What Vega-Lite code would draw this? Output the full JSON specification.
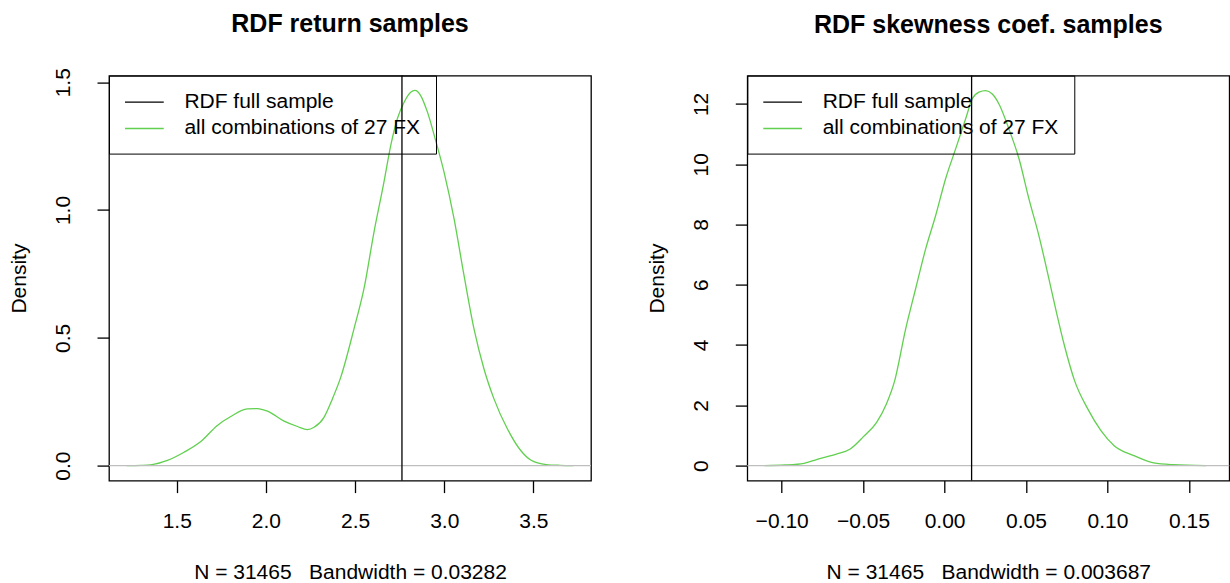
{
  "$schema": "https://vega.github.io/schema/vega-lite/v6.json",
  "background": "white",
  "padding": {"left": 7, "top": 10.6, "right": 0, "bottom": 0},
  "datasets": {
    "ret": [
      {"x": 1.220, "y": 0}, {"x": 1.30, "y": 0.001}, {"x": 1.354, "y": 0.003}, {"x": 1.448, "y": 0.020},
      {"x": 1.541, "y": 0.052}, {"x": 1.635, "y": 0.094}, {"x": 1.728, "y": 0.157}, {"x": 1.803, "y": 0.192},
      {"x": 1.896, "y": 0.222}, {"x": 1.952, "y": 0.223}, {"x": 2.009, "y": 0.213}, {"x": 2.102, "y": 0.174},
      {"x": 2.177, "y": 0.153}, {"x": 2.233, "y": 0.141}, {"x": 2.270, "y": 0.150}, {"x": 2.326, "y": 0.189},
      {"x": 2.373, "y": 0.261}, {"x": 2.420, "y": 0.346}, {"x": 2.494, "y": 0.535}, {"x": 2.550, "y": 0.692},
      {"x": 2.606, "y": 0.913}, {"x": 2.662, "y": 1.109}, {"x": 2.700, "y": 1.252}, {"x": 2.737, "y": 1.357},
      {"x": 2.775, "y": 1.422}, {"x": 2.812, "y": 1.461}, {"x": 2.836, "y": 1.468}, {"x": 2.868, "y": 1.448},
      {"x": 2.906, "y": 1.383}, {"x": 2.952, "y": 1.272}, {"x": 2.999, "y": 1.148}, {"x": 3.055, "y": 0.966},
      {"x": 3.111, "y": 0.744}, {"x": 3.167, "y": 0.535}, {"x": 3.223, "y": 0.378}, {"x": 3.279, "y": 0.261},
      {"x": 3.354, "y": 0.144}, {"x": 3.429, "y": 0.059}, {"x": 3.485, "y": 0.022}, {"x": 3.573, "y": 0.004},
      {"x": 3.65, "y": 0.001}, {"x": 3.724, "y": 0}
    ],
    "skew": [
      {"x": -0.1105, "y": 0}, {"x": -0.098, "y": 0.02}, {"x": -0.0863, "y": 0.077}, {"x": -0.0782, "y": 0.21},
      {"x": -0.0660, "y": 0.387}, {"x": -0.0579, "y": 0.553}, {"x": -0.0498, "y": 0.962}, {"x": -0.0417, "y": 1.437},
      {"x": -0.0357, "y": 2.047}, {"x": -0.0306, "y": 2.82}, {"x": -0.0239, "y": 4.53}, {"x": -0.0178, "y": 5.86},
      {"x": -0.0116, "y": 7.19}, {"x": -0.0055, "y": 8.29}, {"x": 0.0006, "y": 9.51}, {"x": 0.0068, "y": 10.51},
      {"x": 0.0129, "y": 11.50}, {"x": 0.0170, "y": 12.17}, {"x": 0.0211, "y": 12.39}, {"x": 0.0252, "y": 12.44},
      {"x": 0.0293, "y": 12.33}, {"x": 0.0334, "y": 12.0}, {"x": 0.0395, "y": 11.17}, {"x": 0.0457, "y": 10.18},
      {"x": 0.0518, "y": 8.85}, {"x": 0.0579, "y": 7.63}, {"x": 0.0641, "y": 6.19}, {"x": 0.0682, "y": 5.20},
      {"x": 0.0735, "y": 4.0}, {"x": 0.0798, "y": 2.82}, {"x": 0.0879, "y": 1.88}, {"x": 0.0960, "y": 1.16},
      {"x": 0.1041, "y": 0.66}, {"x": 0.1163, "y": 0.33}, {"x": 0.1284, "y": 0.09}, {"x": 0.1406, "y": 0.03},
      {"x": 0.1604, "y": 0}
    ]
  },
  "config": {
    "font": "Liberation Sans",
    "view": {"stroke": "black", "strokeWidth": 1.3},
    "axis": {
      "domain": false, "grid": false, "tickColor": "black", "tickWidth": 1.3, "tickSize": 12,
      "labelFont": "Liberation Sans", "labelFontSize": 21, "labelColor": "black",
      "titleFont": "Liberation Sans", "titleFontSize": 21, "titleFontWeight": "normal", "titleColor": "black"
    },
    "axisX": {"labelBaseline": "alphabetic", "labelPadding": 35, "labelAngle": 0, "labelFlush": false, "labelOverlap": false, "titleBaseline": "alphabetic", "titleY": 98},
    "axisY": {"labelAngle": -90, "labelAlign": "center", "labelBaseline": "alphabetic", "labelPadding": 28, "labelFlush": false, "labelOverlap": false, "titleAngle": -90, "titleAlign": "center", "titleBaseline": "alphabetic", "titleX": -84, "titleY": 202.5},
    "title": {"fontSize": 25, "fontWeight": "bold", "font": "Liberation Sans", "color": "black", "anchor": "middle", "baseline": "alphabetic"}
  },
  "spacing": 52.3,
  "resolve": {"scale": {"x": "independent", "y": "independent", "color": "independent"}, "legend": {"color": "independent"}},
  "hconcat": [
    {
      "width": 482, "height": 405,
      "title": {"text": "RDF return samples", "offset": 30.4},
      "layer": [
        {
          "data": {"name": "ret"},
          "mark": {"type": "line", "strokeWidth": 1.3, "interpolate": "monotone"},
          "encoding": {
            "x": {"field": "x", "type": "quantitative", "scale": {"domain": [1.1204, 3.823], "zero": false, "nice": false},
                  "axis": {"title": "N = 31465\u00a0\u00a0\u00a0Bandwidth = 0.03282", "values": [1.5, 2, 2.5, 3, 3.5], "format": ".1f"}},
            "y": {"field": "y", "type": "quantitative", "scale": {"domain": [-0.0587, 1.526], "zero": false, "nice": false},
                  "axis": {"title": "Density", "values": [0, 0.5, 1, 1.5], "format": ".1f"}},
            "color": {"datum": "all combinations of 27 FX", "type": "nominal",
                      "scale": {"domain": ["RDF full sample", "all combinations of 27 FX"], "range": ["black", "#61D04F"]},
                      "legend": {"title": null, "orient": "none", "legendX": 0, "legendY": 0, "symbolType": "M-1,0H2.69", "symbolSize": 441, "symbolStrokeWidth": 1.3, "labelFontSize": 21, "labelFont": "Liberation Sans", "labelColor": "black", "labelOffset": 37.4, "labelLimit": 500, "padding": 15, "rowPadding": 4.4, "strokeColor": "black", "symbolOpacity": 1}}
          }
        },
        {
          "data": {"values": [{"y": 0}]},
          "mark": {"type": "rule", "color": "#BEBEBE", "strokeWidth": 1.3},
          "encoding": {"y": {"field": "y", "type": "quantitative", "axis": {"title": "Density"}}}
        },
        {
          "data": {"values": [{"x": 2.763}]},
          "mark": {"type": "rule", "strokeWidth": 1.3},
          "encoding": {
            "x": {"field": "x", "type": "quantitative", "axis": {"title": "N = 31465\u00a0\u00a0\u00a0Bandwidth = 0.03282"}},
            "color": {"datum": "RDF full sample", "type": "nominal"}
          }
        }
      ]
    },
    {
      "width": 482, "height": 405,
      "title": {"text": "RDF skewness coef. samples", "offset": 37.4},
      "layer": [
        {
          "data": {"name": "skew"},
          "mark": {"type": "line", "strokeWidth": 1.3, "interpolate": "monotone"},
          "encoding": {
            "x": {"field": "x", "type": "quantitative", "scale": {"domain": [-0.1211, 0.1748], "zero": false, "nice": false},
                  "axis": {"title": "N = 31465\u00a0\u00a0\u00a0Bandwidth = 0.003687", "values": [-0.1, -0.05, 0, 0.05, 0.1, 0.15], "format": ".2f"}},
            "y": {"field": "y", "type": "quantitative", "scale": {"domain": [-0.498, 12.94], "zero": false, "nice": false},
                  "axis": {"title": "Density", "values": [0, 2, 4, 6, 8, 10, 12], "format": "d"}},
            "color": {"datum": "all combinations of 27 FX", "type": "nominal",
                      "scale": {"domain": ["RDF full sample", "all combinations of 27 FX"], "range": ["black", "#61D04F"]},
                      "legend": {"title": null, "orient": "none", "legendX": 0, "legendY": 0, "symbolType": "M-1,0H2.69", "symbolSize": 441, "symbolStrokeWidth": 1.3, "labelFontSize": 21, "labelFont": "Liberation Sans", "labelColor": "black", "labelOffset": 37.4, "labelLimit": 500, "padding": 15, "rowPadding": 4.4, "strokeColor": "black", "symbolOpacity": 1}}
          }
        },
        {
          "data": {"values": [{"y": 0}]},
          "mark": {"type": "rule", "color": "#BEBEBE", "strokeWidth": 1.3},
          "encoding": {"y": {"field": "y", "type": "quantitative", "axis": {"title": "Density"}}}
        },
        {
          "data": {"values": [{"x": 0.0166}]},
          "mark": {"type": "rule", "strokeWidth": 1.3},
          "encoding": {
            "x": {"field": "x", "type": "quantitative", "axis": {"title": "N = 31465\u00a0\u00a0\u00a0Bandwidth = 0.003687"}},
            "color": {"datum": "RDF full sample", "type": "nominal"}
          }
        }
      ]
    }
  ]
}
